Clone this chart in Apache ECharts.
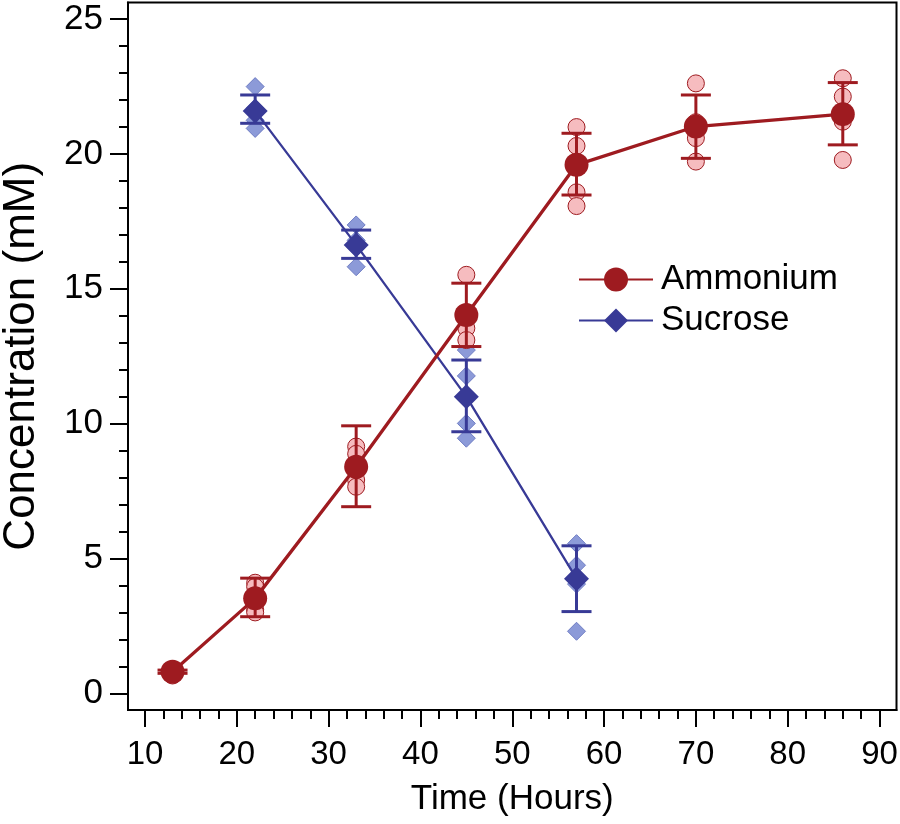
<!DOCTYPE html>
<html>
<head>
<meta charset="utf-8">
<script src="https://cdn.jsdelivr.net/npm/echarts@6/dist/echarts.min.js"></script>
<style>
html,body{margin:0;padding:0;background:#fff;}
#chart{width:900px;height:824px;}
</style>
</head>
<body>
<div id="chart"></div>
<script>
// ---- Data ----
const ammoniumTimes = [13, 22, 33, 45, 57, 70, 86];
const ammoniumMean  = [0.8, 3.52, 8.4, 14.03, 19.6, 21.02, 21.48];
const ammoniumLow   = [0.74, 2.84, 6.92, 12.86, 18.48, 19.84, 20.34];
const ammoniumHigh  = [0.86, 4.27, 9.92, 15.21, 20.77, 22.19, 22.65];
const ammoniumReps  = [
  [0.86, 0.8, 0.72, 0.66],
  [4.1, 3.95, 3.1, 3.0],
  [9.15, 8.88, 7.91, 7.66],
  [15.52, 13.96, 13.54, 13.1],
  [21.0, 20.3, 18.58, 18.07],
  [22.62, 21.18, 20.59, 19.72],
  [22.81, 22.13, 21.2, 19.78]
];

const sucroseTimes = [22, 33, 45, 57];
const sucroseMean  = [21.6, 16.63, 11.0, 4.25];
const sucroseLow   = [21.14, 16.13, 9.70, 3.03];
const sucroseHigh  = [22.19, 17.18, 12.36, 5.47];
const sucroseReps  = [
  [22.5, 21.7, 21.25, 20.95],
  [17.37, 16.8, 16.53, 15.82],
  [12.73, 11.77, 10.01, 9.46],
  [5.55, 4.75, 4.05, 2.3]
];

const xMajorTicks = [10, 20, 30, 40, 50, 60, 70, 80, 90];
const xMinorTicks = [12,14,16,18,22,24,26,28,32,34,36,38,42,44,46,48,52,54,56,58,62,64,66,68,72,74,76,78,82,84,86,88];
const yMajorTicks = [0, 5, 10, 15, 20, 25];
const yMinorTicks = [1,2,3,4,6,7,8,9,11,12,13,14,16,17,18,19,21,22,23,24];

// ---- Styles ----
const FONT = '"Liberation Sans", Arial, Helvetica, sans-serif';
const RED = '#9e1b20';
const RED_LIGHT = '#f6bcbf';
const BLUE = '#383a96';
const BLUE_LIGHT = '#8c9ad8';
const X_MIN = 8.15, X_MAX = 91.85, Y_MIN = -0.62, Y_MAX = 25.62;

function pairs(times, vals) { return times.map((t, i) => [t, vals[i]]); }
function repPairs(times, reps) {
  const out = [];
  times.forEach((t, i) => reps[i].forEach(v => out.push([t, v])));
  return out;
}
function errRows(times, lo, hi) { return times.map((t, i) => [t, lo[i], hi[i]]); }

function errorBar(color) {
  return function (params, api) {
    const x = api.value(0);
    const top = api.coord([x, api.value(2)]);
    const bot = api.coord([x, api.value(1)]);
    const hw = 15;
    const st = { stroke: color, lineWidth: 3 };
    return {
      type: 'group',
      children: [
        { type: 'line', shape: { x1: top[0], y1: top[1], x2: bot[0], y2: bot[1] }, style: st },
        { type: 'line', shape: { x1: top[0] - hw, y1: top[1], x2: top[0] + hw, y2: top[1] }, style: st },
        { type: 'line', shape: { x1: bot[0] - hw, y1: bot[1], x2: bot[0] + hw, y2: bot[1] }, style: st }
      ]
    };
  };
}

const chart = echarts.init(document.getElementById('chart'), null, { renderer: 'canvas' });

const option = {
  animation: false,
  backgroundColor: '#fff',
  grid: {
    left: 128, right: 3.5, top: 2.5, bottom: 114,
    containLabel: false, outerBoundsMode: 'none',
    show: true, borderColor: '#000', borderWidth: 2, backgroundColor: 'transparent'
  },
  legend: {
    data: ['Ammonium', 'Sucrose'],
    orient: 'vertical',
    left: 578, top: 262,
    itemWidth: 74, itemHeight: 30, itemGap: 6,
    padding: 0,
    textStyle: { fontSize: 35, color: '#000', fontFamily: FONT, padding: [0, 0, 0, 3] }
  },
  xAxis: [
    {
      type: 'value', min: X_MIN, max: X_MAX, position: 'bottom',
      name: 'Time (Hours)', nameLocation: 'middle', nameGap: 72,
      nameTextStyle: { fontSize: 35, color: '#000', fontFamily: FONT },
      axisLine: { show: true, onZero: false, lineStyle: { color: '#000', width: 2 } },
      axisTick: { show: true, inside: false, length: 17, customValues: xMajorTicks, lineStyle: { color: '#000', width: 2 } },
      axisLabel: { show: true, margin: 28, fontSize: 33, color: '#000', fontFamily: FONT, customValues: xMajorTicks },
      splitLine: { show: false }
    },
    {
      type: 'value', min: X_MIN, max: X_MAX, position: 'bottom',
      axisLine: { show: false, onZero: false },
      axisTick: { show: true, inside: false, length: 9, customValues: xMinorTicks, lineStyle: { color: '#000', width: 2 } },
      axisLabel: { show: false },
      splitLine: { show: false }
    }
  ],
  yAxis: [
    {
      type: 'value', min: Y_MIN, max: Y_MAX, position: 'left',
      name: 'Concentration (mM)', nameLocation: 'middle', nameGap: 84,
      nameTextStyle: { fontSize: 44, color: '#000', fontFamily: FONT },
      axisLine: { show: true, onZero: false, lineStyle: { color: '#000', width: 2 } },
      axisTick: { show: true, inside: false, length: 18, customValues: yMajorTicks, lineStyle: { color: '#000', width: 2 } },
      axisLabel: { show: true, margin: 25, fontSize: 35, color: '#000', fontFamily: FONT, customValues: yMajorTicks },
      splitLine: { show: false }
    },
    {
      type: 'value', min: Y_MIN, max: Y_MAX, position: 'left',
      axisLine: { show: false, onZero: false },
      axisTick: { show: true, inside: false, length: 9, customValues: yMinorTicks, lineStyle: { color: '#000', width: 2 } },
      axisLabel: { show: false },
      splitLine: { show: false }
    }
  ],
  series: [
    {
      name: 'Sucrose replicates', type: 'scatter', z: 1,
      symbol: 'diamond', symbolSize: 18,
      itemStyle: { color: BLUE_LIGHT, borderColor: '#6f7dc4', borderWidth: 1, opacity: 1 },
      data: repPairs(sucroseTimes, sucroseReps)
    },
    {
      name: 'Ammonium replicates', type: 'scatter', z: 1,
      symbol: 'circle', symbolSize: 17,
      itemStyle: { color: RED_LIGHT, borderColor: RED, borderWidth: 1, opacity: 1 },
      data: repPairs(ammoniumTimes, ammoniumReps)
    },
    {
      name: 'Ammonium error', type: 'custom', z: 2,
      renderItem: errorBar(RED),
      encode: { x: 0, y: [1, 2] },
      data: errRows(ammoniumTimes, ammoniumLow, ammoniumHigh)
    },
    {
      name: 'Sucrose error', type: 'custom', z: 2,
      renderItem: errorBar(BLUE),
      encode: { x: 0, y: [1, 2] },
      data: errRows(sucroseTimes, sucroseLow, sucroseHigh)
    },
    {
      name: 'Sucrose', type: 'line', z: 3,
      symbol: 'diamond', symbolSize: 25, showSymbol: true,
      itemStyle: { color: BLUE },
      lineStyle: { color: BLUE, width: 2.3 },
      data: pairs(sucroseTimes, sucroseMean)
    },
    {
      name: 'Ammonium', type: 'line', z: 3,
      symbol: 'circle', symbolSize: 24, showSymbol: true,
      itemStyle: { color: RED },
      lineStyle: { color: RED, width: 3.3 },
      data: pairs(ammoniumTimes, ammoniumMean)
    }
  ]
};

chart.setOption(option);
</script>
</body>
</html>
